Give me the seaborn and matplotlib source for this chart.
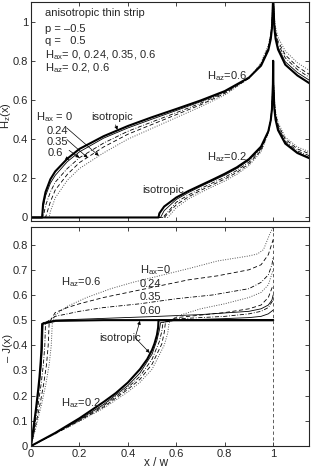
import matplotlib
matplotlib.use("Agg")
import matplotlib.pyplot as plt
import seaborn as sns
import pandas as pd

# ---------------- data: top panel H_z(x) ----------------
# H_az = 0.6 family
h6_iso_x = [0, 0.046, 0.05, 0.06, 0.08, 0.1, 0.15, 0.2, 0.3, 0.4, 0.5, 0.6, 0.7, 0.8, 0.9, 0.95, 0.98, 0.99, 0.995, 0.999, 1.0, 1.001, 1.005, 1.01, 1.02, 1.05, 1.1, 1.15]
h6_iso_y = [0, 0, 0.07, 0.13, 0.195, 0.235, 0.30, 0.35, 0.415, 0.467, 0.512, 0.554, 0.597, 0.645, 0.714, 0.775, 0.854, 0.910, 0.966, 1.094, 1.25, 1.095, 0.967, 0.912, 0.858, 0.78, 0.725, 0.685]
h6_grid = [0.06, 0.08, 0.1, 0.15, 0.2, 0.3, 0.4, 0.5, 0.6, 0.7, 0.8, 0.9, 0.95, 0.98, 0.99, 0.995, 0.999, 1.0, 1.001, 1.005, 1.01, 1.02, 1.05, 1.1, 1.15]
h6_a60_x = [0, 0.045, 0.05] + h6_grid
h6_a60_y = [0, 0, 0.05, 0.11, 0.175, 0.215, 0.285, 0.335, 0.405, 0.457, 0.502, 0.546, 0.591, 0.642, 0.713, 0.777, 0.858, 0.915, 0.97, 1.097, 1.25, 1.10, 0.975, 0.922, 0.87, 0.795, 0.74, 0.70]
h6_a35_x = [0, 0.05] + h6_grid
h6_a35_y = [0, 0, 0.06, 0.13, 0.18, 0.25, 0.305, 0.38, 0.44, 0.488, 0.535, 0.583, 0.638, 0.712, 0.78, 0.865, 0.925, 0.98, 1.10, 1.25, 1.11, 0.99, 0.94, 0.885, 0.815, 0.755, 0.715]
h6_a24_x = [0, 0.06] + h6_grid[1:]
h6_a24_y = [0, 0, 0.08, 0.14, 0.22, 0.28, 0.36, 0.425, 0.475, 0.525, 0.575, 0.633, 0.71, 0.785, 0.87, 0.93, 0.99, 1.11, 1.25, 1.12, 1.0, 0.95, 0.90, 0.83, 0.77, 0.73]
h6_a00_x = [0, 0.075] + h6_grid[1:]
h6_a00_y = [0, 0, 0.03, 0.10, 0.19, 0.25, 0.33, 0.40, 0.455, 0.51, 0.565, 0.625, 0.71, 0.79, 0.88, 0.94, 1.0, 1.12, 1.25, 1.13, 1.02, 0.97, 0.92, 0.85, 0.79, 0.75]

# H_az = 0.2 family
h2_grid = [0.6, 0.65, 0.7, 0.75, 0.8, 0.85, 0.9, 0.95, 0.98, 0.99, 0.995, 0.999, 1.0, 1.001, 1.005, 1.01, 1.02, 1.05, 1.1, 1.15]
h2_iso_x = [0, 0.5266, 0.53, 0.55] + h2_grid
h2_iso_y = [0, 0, 0.021, 0.056, 0.102, 0.135, 0.164, 0.193, 0.223, 0.256, 0.298, 0.362, 0.440, 0.496, 0.552, 0.681, 0.80, 0.681, 0.554, 0.499, 0.446, 0.377, 0.329, 0.302]
h2_a60_x = [0, 0.535, 0.55] + h2_grid
h2_a60_y = [0, 0, 0.035, 0.092, 0.127, 0.158, 0.187, 0.216, 0.25, 0.292, 0.357, 0.438, 0.496, 0.555, 0.685, 0.80, 0.69, 0.565, 0.51, 0.455, 0.383, 0.333, 0.306]
h2_a35_x = [0, 0.545] + h2_grid
h2_a35_y = [0, 0, 0.078, 0.115, 0.147, 0.177, 0.205, 0.24, 0.283, 0.35, 0.436, 0.497, 0.56, 0.69, 0.80, 0.695, 0.58, 0.52, 0.465, 0.39, 0.34, 0.315]
h2_a24_x = [0, 0.55] + h2_grid
h2_a24_y = [0, 0, 0.065, 0.105, 0.138, 0.167, 0.196, 0.23, 0.274, 0.342, 0.433, 0.498, 0.565, 0.695, 0.80, 0.70, 0.59, 0.53, 0.475, 0.40, 0.35, 0.325]
h2_a00_x = [0, 0.565] + h2_grid
h2_a00_y = [0, 0, 0.05, 0.095, 0.127, 0.157, 0.186, 0.22, 0.265, 0.335, 0.43, 0.50, 0.57, 0.70, 0.80, 0.71, 0.60, 0.54, 0.485, 0.41, 0.36, 0.335]

# ---------------- data: bottom panel -J(x) ----------------
j6_iso_x = [0, 0.01, 0.02, 0.03, 0.035, 0.04, 0.043, 0.046, 0.1, 0.3, 1.0]
j6_iso_y = [0, 0.07, 0.143, 0.226, 0.274, 0.335, 0.383, 0.485, 0.497, 0.5, 0.5]
j6_a60_x = [0, 0.0125, 0.025, 0.035, 0.0425, 0.0475, 0.05, 0.1, 0.3, 0.5, 0.7, 0.9, 0.95, 0.98, 0.995, 1.0]
j6_a60_y = [0, 0.08, 0.167, 0.247, 0.323, 0.399, 0.49, 0.5, 0.507, 0.514, 0.522, 0.535, 0.545, 0.56, 0.58, 0.6]
j6_a35_x = [0, 0.015, 0.03, 0.042, 0.051, 0.057, 0.06, 0.1, 0.2, 0.3, 0.45, 0.6, 0.75, 0.9, 0.95, 0.98, 0.995, 1.0]
j6_a35_y = [0, 0.08, 0.167, 0.247, 0.323, 0.399, 0.49, 0.515, 0.535, 0.55, 0.565, 0.585, 0.6, 0.625, 0.65, 0.68, 0.72, 0.75]
j6_a24_x = [0, 0.019, 0.0375, 0.0525, 0.064, 0.071, 0.075, 0.1, 0.15, 0.2, 0.3, 0.5, 0.65, 0.77, 0.9, 0.95, 0.98, 0.99, 1.0]
j6_a24_y = [0, 0.08, 0.167, 0.247, 0.323, 0.399, 0.49, 0.53, 0.55, 0.565, 0.59, 0.63, 0.66, 0.676, 0.70, 0.72, 0.76, 0.79, 0.82]
j6_a00_x = [0, 0.022, 0.044, 0.0616, 0.075, 0.0836, 0.088, 0.1, 0.15, 0.23, 0.33, 0.42, 0.53, 0.66, 0.77, 0.9, 0.935, 0.96, 0.985, 1.0]
j6_a00_y = [0, 0.08, 0.167, 0.247, 0.323, 0.399, 0.49, 0.52, 0.555, 0.59, 0.625, 0.65, 0.676, 0.707, 0.735, 0.755, 0.763, 0.78, 0.84, 0.87]

j2_iso_x = [0, 0.05, 0.1, 0.2, 0.3, 0.35, 0.4, 0.45, 0.48, 0.5, 0.51, 0.52, 0.525, 0.5266, 1.0]
j2_iso_y = [0, 0.026, 0.052, 0.11, 0.175, 0.21, 0.252, 0.305, 0.345, 0.382, 0.407, 0.441, 0.471, 0.5, 0.5]
j2_a60_x = [0, 0.1, 0.2, 0.3, 0.4, 0.45, 0.5, 0.52, 0.53, 0.535, 0.6, 0.7, 0.8, 0.9, 0.95, 0.98, 1.0]
j2_a60_y = [0, 0.051, 0.105, 0.165, 0.24, 0.29, 0.365, 0.42, 0.46, 0.49, 0.5, 0.503, 0.506, 0.51, 0.515, 0.525, 0.54]
j2_a35_x = [0, 0.1, 0.2, 0.3, 0.4, 0.45, 0.5, 0.53, 0.54, 0.545, 0.6, 0.7, 0.8, 0.9, 0.95, 0.98, 1.0]
j2_a35_y = [0, 0.05, 0.103, 0.16, 0.232, 0.277, 0.345, 0.415, 0.455, 0.49, 0.505, 0.51, 0.515, 0.525, 0.535, 0.55, 0.58]
j2_a24_x = [0, 0.1, 0.2, 0.3, 0.4, 0.45, 0.5, 0.54, 0.55, 0.555, 0.6, 0.7, 0.8, 0.9, 0.95, 0.98, 1.0]
j2_a24_y = [0, 0.049, 0.1, 0.155, 0.225, 0.265, 0.325, 0.405, 0.45, 0.49, 0.51, 0.52, 0.53, 0.545, 0.56, 0.59, 0.64]
j2_a00_x = [0, 0.1, 0.2, 0.3, 0.4, 0.45, 0.5, 0.55, 0.565, 0.57, 0.6, 0.65, 0.7, 0.8, 0.9, 0.95, 0.98, 1.0]
j2_a00_y = [0, 0.048, 0.098, 0.15, 0.215, 0.253, 0.305, 0.4, 0.45, 0.49, 0.515, 0.53, 0.545, 0.565, 0.59, 0.61, 0.64, 0.70]

x_ticks = [0, 0.2, 0.4, 0.6, 0.8, 1]
x_ticklabels = ["0", "0.2", "0.4", "0.6", "0.8", "1"]
top_yticks = [0, 0.2, 0.4, 0.6, 0.8, 1]
top_yticklabels = ["0", "0.2", "0.4", "0.6", "0.8", "1"]
bot_yticks = [0, 0.1, 0.2, 0.3, 0.4, 0.5, 0.6, 0.7, 0.8]
bot_yticklabels = ["0", "0.1", "0.2", "0.3", "0.4", "0.5", "0.6", "0.7", "0.8"]

# ---------------- style ----------------
sns.set_style("ticks")
plt.rcParams["font.family"] = ["Liberation Sans", "DejaVu Sans"]
plt.rcParams["mathtext.fontset"] = "custom"
plt.rcParams["mathtext.rm"] = "Liberation Sans"
plt.rcParams["mathtext.it"] = "Liberation Sans"
plt.rcParams["xtick.direction"] = "in"
plt.rcParams["ytick.direction"] = "in"
plt.rcParams["xtick.top"] = True
plt.rcParams["ytick.right"] = True

FS = 8.0
styles = {
    "iso": dict(color="black", lw=1.5, ls="-"),
    "a60": dict(color="black", lw=0.6, ls="-"),
    "a35": dict(color="black", lw=0.6, ls=(0, (5, 2, 1, 2))),
    "a24": dict(color="black", lw=0.6, ls=(0, (5, 3))),
    "a00": dict(color="#555555", lw=0.7, ls=(0, (1, 1.5))),
}

fig = plt.figure(figsize=(3.11, 4.68), dpi=100)
ax1 = fig.add_axes([31 / 311, 1 - 221 / 468, 278 / 311, 219 / 468])
ax2 = fig.add_axes([31 / 311, 1 - 446 / 468, 278 / 311, 219 / 468])


def draw(ax, xs, ys, key):
    df = pd.DataFrame({"x": xs, "y": ys})
    st = styles[key]
    sns.lineplot(data=df, x="x", y="y", ax=ax, sort=False, estimator=None,
                 color=st["color"], linewidth=st["lw"], linestyle=st["ls"])


top_curves = [
    (h6_a00_x, h6_a00_y, "a00"), (h6_a24_x, h6_a24_y, "a24"), (h6_a35_x, h6_a35_y, "a35"),
    (h6_a60_x, h6_a60_y, "a60"), (h6_iso_x, h6_iso_y, "iso"),
    (h2_a00_x, h2_a00_y, "a00"), (h2_a24_x, h2_a24_y, "a24"), (h2_a35_x, h2_a35_y, "a35"),
    (h2_a60_x, h2_a60_y, "a60"), (h2_iso_x, h2_iso_y, "iso"),
]
for xs, ys, k in top_curves:
    draw(ax1, xs, ys, k)

bot_curves = [
    (j6_a00_x, j6_a00_y, "a00"), (j6_a24_x, j6_a24_y, "a24"), (j6_a35_x, j6_a35_y, "a35"),
    (j6_a60_x, j6_a60_y, "a60"),
    (j2_a00_x, j2_a00_y, "a00"), (j2_a24_x, j2_a24_y, "a24"), (j2_a35_x, j2_a35_y, "a35"),
    (j2_a60_x, j2_a60_y, "a60"),
    (j6_iso_x, j6_iso_y, "iso"), (j2_iso_x, j2_iso_y, "iso"),
]
for xs, ys, k in bot_curves:
    draw(ax2, xs, ys, k)

ax2.axvline(1.0, color="#444444", lw=0.6, ls=(0, (4, 3)))

for ax in (ax1, ax2):
    ax.set_xlim(0, 1.148)
    ax.set_xticks(x_ticks)
    ax.tick_params(axis="both", labelsize=FS, length=3, width=0.6, pad=2)
    for s in ax.spines.values():
        s.set_linewidth(0.8)
    ax.set_xlabel("")
    ax.set_ylabel("")

ax1.set_ylim(-0.018, 1.1)
ax1.set_yticks(top_yticks)
ax1.set_yticklabels(top_yticklabels)
ax1.set_xticklabels([])
ax1.set_ylabel(r"H$_\mathrm{z}$(x)", fontsize=FS)
ax1.yaxis.set_label_coords(-0.064, 0.48)

ax2.set_ylim(0, 0.87)
ax2.set_yticks(bot_yticks)
ax2.set_yticklabels(bot_yticklabels)
ax2.set_xticklabels(x_ticklabels)
ax2.set_xlabel("x / w", fontsize=FS + 0.5)
ax2.xaxis.set_label_coords(0.45, -0.048)
ax2.set_ylabel("– J(x)", fontsize=FS)
ax2.yaxis.set_label_coords(-0.064, 0.45)

# ---------------- annotations top ----------------
info = ["anisotropic thin strip", "p = –0.5", "q =   0.5",
        r"H$_\mathrm{ax}$= 0, 0.24, 0.35, 0.6", r"H$_\mathrm{az}$= 0.2, 0.6"]
info_y = [1.045, 0.963, 0.90, 0.828, 0.76]
for t, yy in zip(info, info_y):
    ax1.text(0.058, yy, t, fontsize=FS, va="center", ha="left")

arw = dict(arrowstyle="-|>", lw=0.5, color="black", mutation_scale=5, shrinkA=0, shrinkB=0)
ax1.annotate("isotropic", xy=(0.357, 0.447), xytext=(0.25, 0.515), fontsize=FS,
             va="center", ha="left", arrowprops=dict(arw))
ax1.annotate(r"H$_\mathrm{ax}$ = 0", xy=(0.28, 0.315), xytext=(0.022, 0.51), fontsize=FS,
             va="center", ha="left", arrowprops=dict(arw))
ax1.annotate("0.24", xy=(0.234, 0.305), xytext=(0.065, 0.44), fontsize=FS,
             va="center", ha="left", arrowprops=dict(arw))
ax1.annotate("0.35", xy=(0.2, 0.305), xytext=(0.065, 0.385), fontsize=FS,
             va="center", ha="left", arrowprops=dict(arw))
ax1.annotate("0.6", xy=(0.158, 0.295), xytext=(0.07, 0.33), fontsize=FS,
             va="center", ha="left", arrowprops=dict(arw))
ax1.text(0.725, 0.72, r"H$_\mathrm{az}$=0.6", fontsize=FS, va="center", ha="left")
ax1.text(0.725, 0.31, r"H$_\mathrm{az}$=0.2", fontsize=FS, va="center", ha="left")
ax1.text(0.46, 0.14, "isotropic", fontsize=FS, va="center", ha="left")

# ---------------- annotations bottom ----------------
ax2.text(0.45, 0.70, r"H$_\mathrm{ax}$=0", fontsize=FS, va="center", ha="left")
ax2.text(0.45, 0.645, "0.24", fontsize=FS, va="center", ha="left")
ax2.text(0.45, 0.59, "0.35", fontsize=FS, va="center", ha="left")
ax2.text(0.45, 0.535, "0.60", fontsize=FS, va="center", ha="left")
ax2.text(0.125, 0.65, r"H$_\mathrm{az}$=0.6", fontsize=FS, va="center", ha="left")
ax2.text(0.125, 0.17, r"H$_\mathrm{az}$=0.2", fontsize=FS, va="center", ha="left")
ax2.text(0.28, 0.43, "isotropic", fontsize=FS, va="center", ha="left")
ax2.annotate("", xy=(0.45, 0.497), xytext=(0.43, 0.43), arrowprops=dict(arw))
ax2.annotate("", xy=(0.49, 0.37), xytext=(0.43, 0.43), arrowprops=dict(arw))

fig.savefig("out.png", dpi=100)
